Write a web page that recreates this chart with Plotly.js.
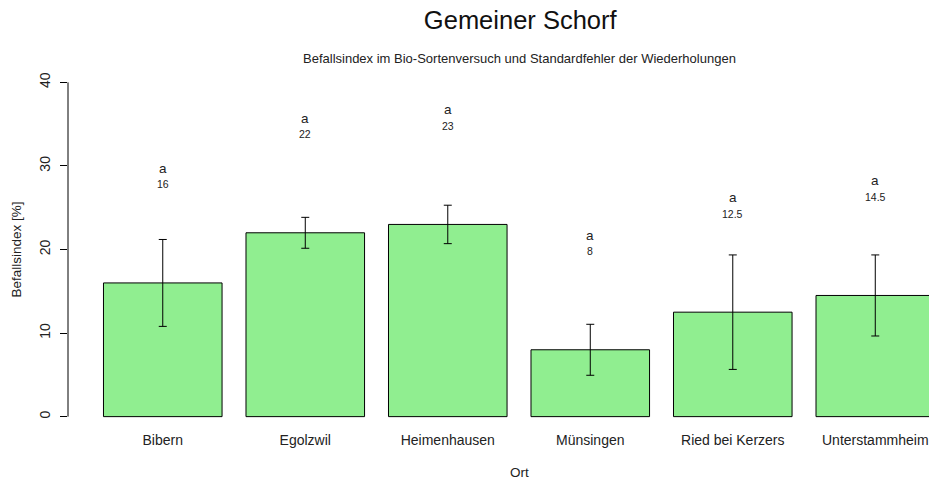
<!DOCTYPE html>
<html>
<head>
<meta charset="utf-8">
<script src="https://cdn.plot.ly/plotly-3.0.1.min.js"></script>
<style>
  body { margin: 0; background: #fff; }
  #chart { width: 929px; height: 479px; }
</style>
</head>
<body>
<div id="chart"></div>
<script>
var orte = ['Bibern', 'Egolzwil', 'Heimenhausen', 'Münsingen', 'Ried bei Kerzers', 'Unterstammheim'];
var befall = [16, 22, 23, 8, 12.5, 14.5];
var stdfehler = [5.2, 1.85, 2.3, 3.05, 6.85, 4.85];
var gruppen = ['a', 'a', 'a', 'a', 'a', 'a'];

var font = 'Liberation Sans, Arial, sans-serif';

var trace = {
  x: orte,
  y: befall,
  type: 'bar',
  marker: {
    color: '#90EE90',
    line: { color: '#000', width: 1 }
  },
  error_y: {
    type: 'data',
    array: stdfehler,
    visible: true,
    color: '#000',
    thickness: 1,
    width: 4
  },
  hoverinfo: 'x+y'
};

// letters and values above each bar
var notes = [];
orte.forEach(function (o, i) {
  notes.push({
    x: o, y: befall[i] + 13.7, xref: 'x', yref: 'y',
    text: gruppen[i], showarrow: false, yanchor: 'middle',
    font: { family: font, size: 13.5, color: '#222' }
  });
  notes.push({
    x: o, y: befall[i] + 11.8, xref: 'x', yref: 'y',
    text: String(befall[i]), showarrow: false, yanchor: 'middle',
    font: { family: font, size: 10.5, color: '#222' }
  });
});

notes.push({
  xref: 'paper', yref: 'paper', x: 0.524, y: 1.028,
  xanchor: 'center', yanchor: 'middle',
  text: 'Befallsindex im Bio-Sortenversuch und Standardfehler der Wiederholungen',
  showarrow: false,
  font: { family: font, size: 13, color: '#222' }
});
notes.push({
  xref: 'paper', yref: 'paper', x: 0.524, y: -0.118,
  xanchor: 'center', yanchor: 'middle',
  text: 'Ort', showarrow: false,
  font: { family: font, size: 13.5, color: '#222' }
});

var layout = {
  width: 929,
  height: 479,
  autosize: false,
  showlegend: false,
  paper_bgcolor: '#fff',
  plot_bgcolor: '#fff',
  margin: { l: 68, r: 0, t: 69, b: 49, pad: 0 },
  bargap: 0.168,
  title: {
    text: 'Gemeiner Schorf',
    xref: 'container', yref: 'container',
    x: 0.56, y: 0.958, xanchor: 'center', yanchor: 'middle',
    font: { family: font, size: 25.5, color: '#111' }
  },
  xaxis: {
    type: 'category',
    range: [-0.665, 5.377],
    showline: false,
    showgrid: false,
    zeroline: false,
    ticks: '',
    tickfont: { family: font, size: 14, color: '#222' },
    fixedrange: true
  },
  yaxis: {
    range: [-1.6, 41.6],
    tickvals: [0, 10, 20, 30, 40],
    showline: false,
    showgrid: false,
    zeroline: false,
    ticks: 'outside',
    ticklen: 7,
    tickwidth: 1,
    tickcolor: '#000',
    tickangle: -90,
    ticklabelstandoff: 4,
    tickfont: { family: font, size: 14, color: '#222' },
    title: {
      text: 'Befallsindex [%]',
      standoff: 12,
      font: { family: font, size: 13.5, color: '#222' }
    },
    fixedrange: true
  },
  shapes: [{
    type: 'line', xref: 'paper', yref: 'y',
    x0: 0, x1: 0, y0: 0, y1: 40,
    line: { color: '#000', width: 1 }
  }],
  annotations: notes
};

Plotly.newPlot('chart', [trace], layout, { displayModeBar: false, staticPlot: true });
</script>
</body>
</html>
